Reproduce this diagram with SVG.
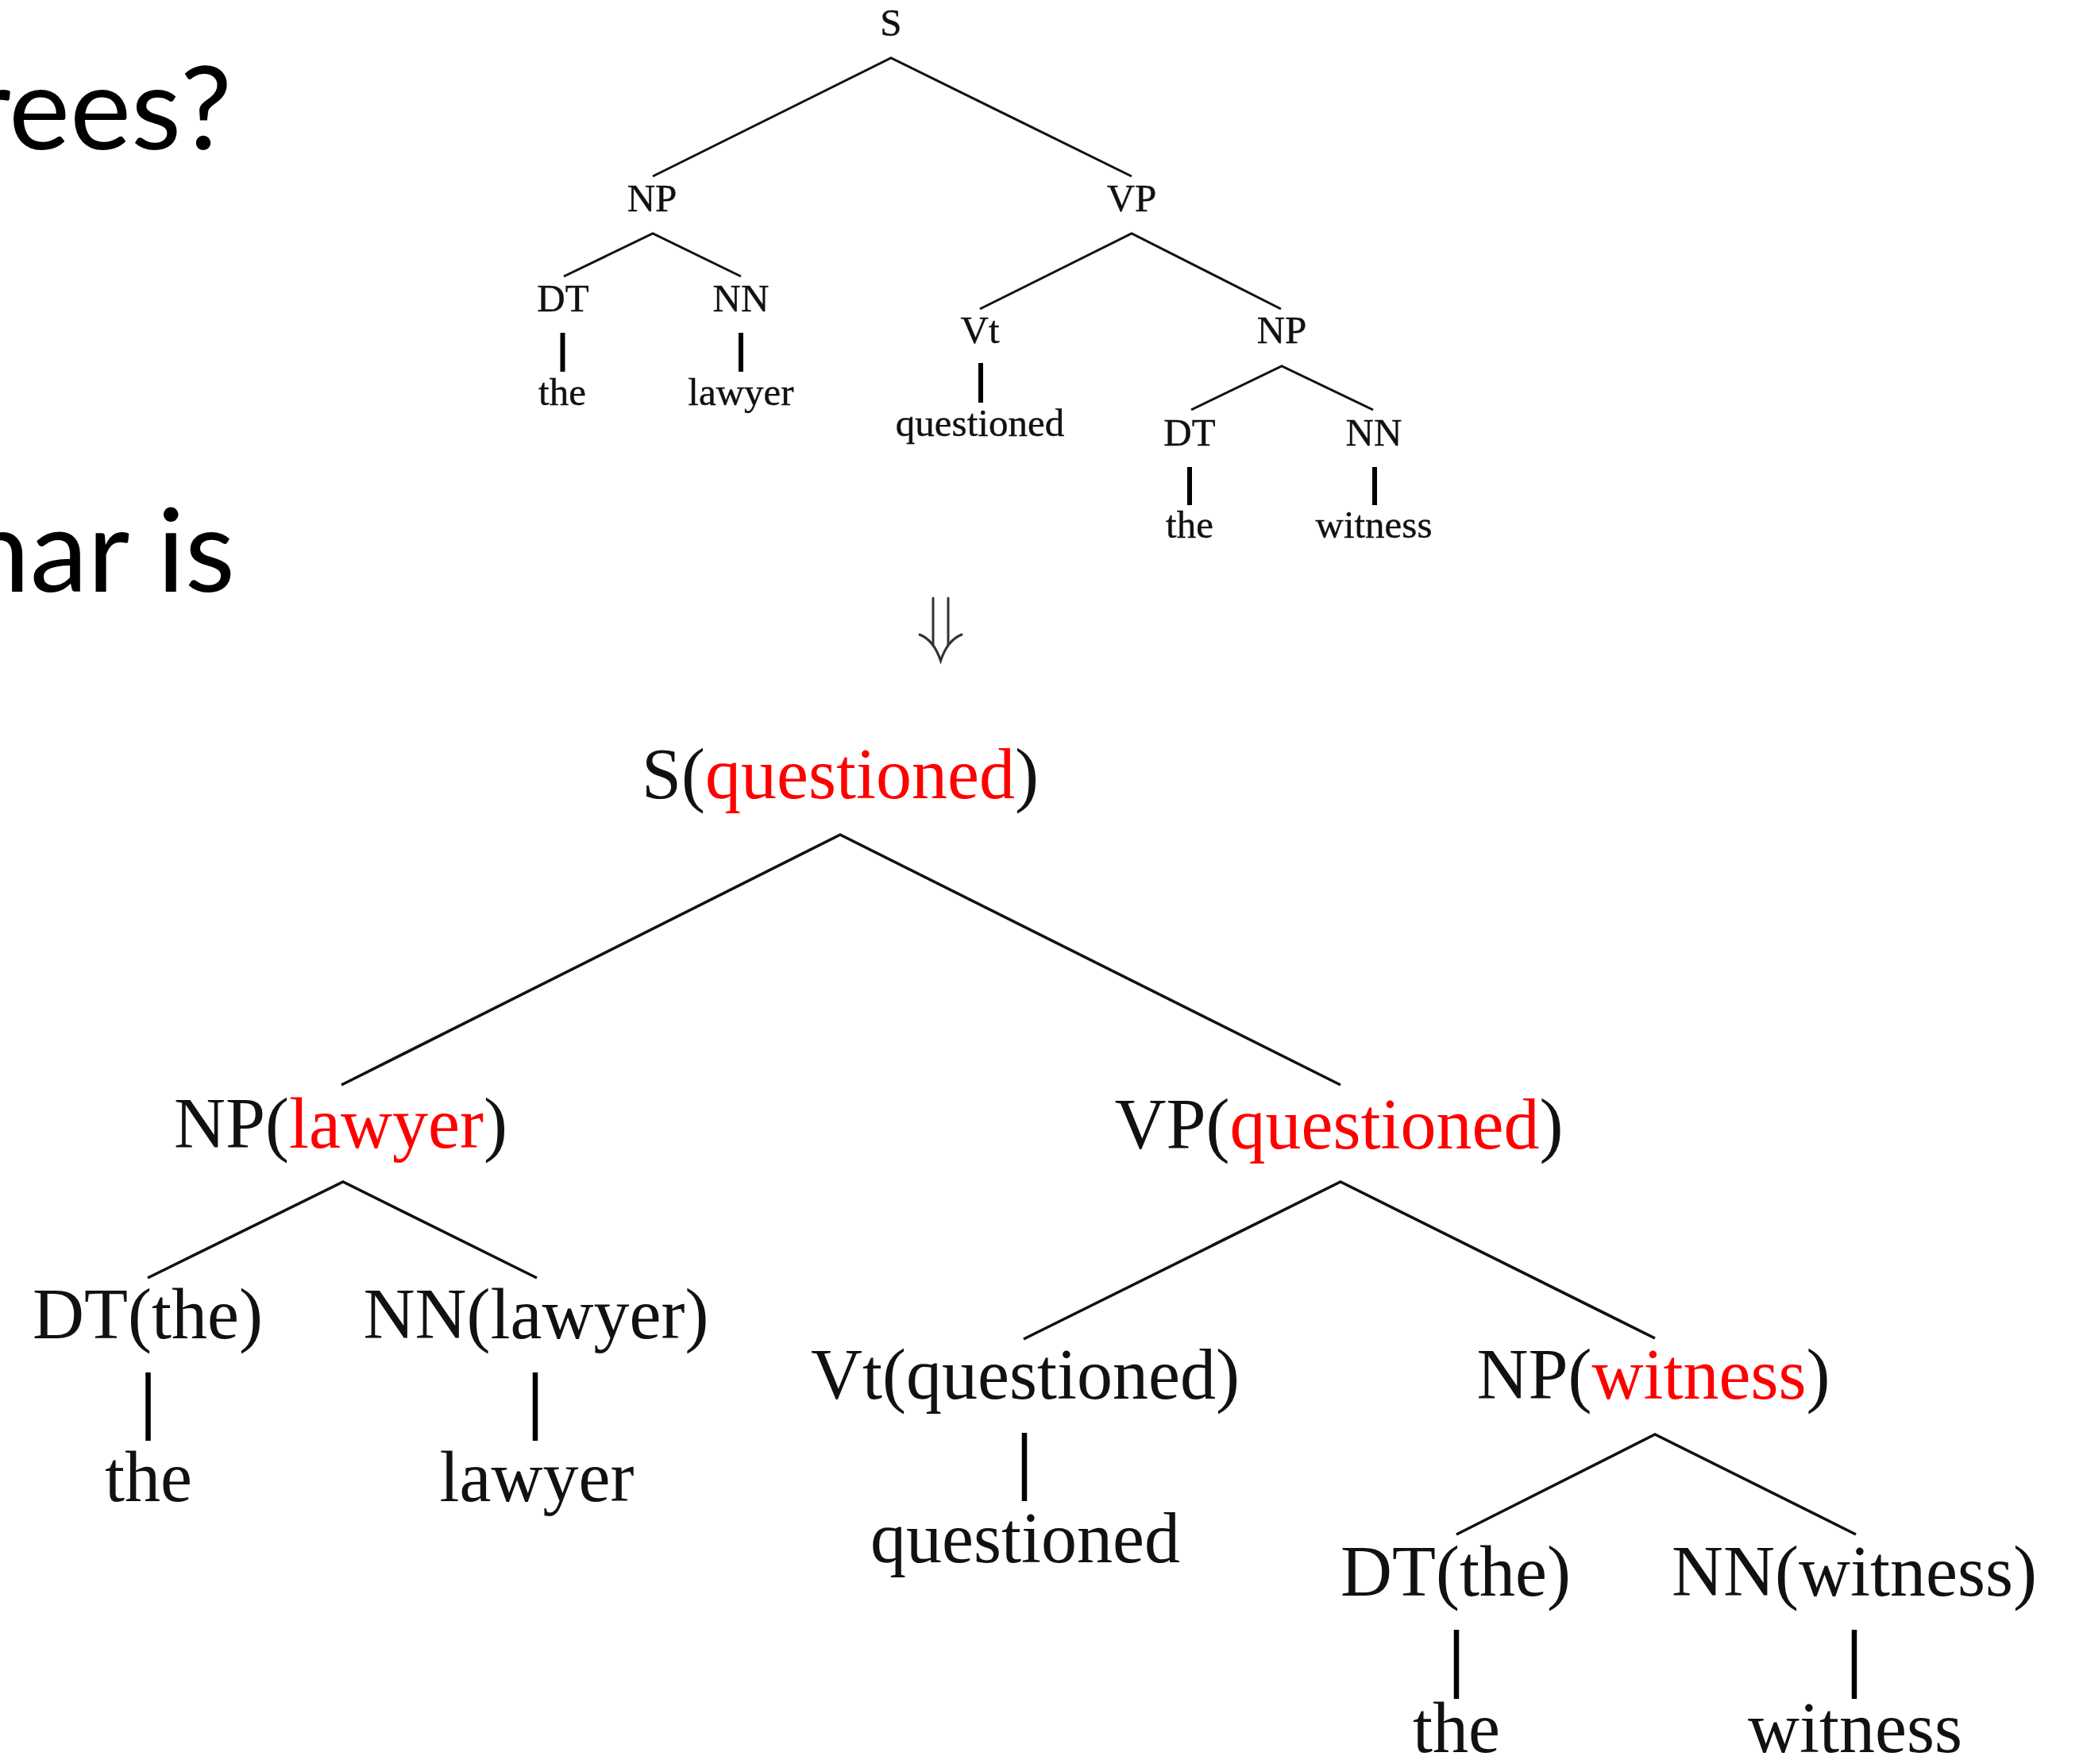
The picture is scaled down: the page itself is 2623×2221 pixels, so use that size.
<svg xmlns="http://www.w3.org/2000/svg" width="2623" height="2221" viewBox="0 0 2623 2221">
<style>
.bg{fill:#fff}
.title{font-family:Lato,"Liberation Sans",sans-serif;font-size:146px;fill:#000}
.s{font-family:"Liberation Serif","Times New Roman",serif;font-size:49px;fill:#111;text-anchor:middle;stroke:#111;stroke-width:0.4}
.b{font-family:"Liberation Serif","Times New Roman",serif;font-size:90px;fill:#111;text-anchor:middle}
.red{fill:#f00}
.e1{stroke:#111;stroke-width:3;fill:none}
.e2{stroke:#111;stroke-width:3.6;fill:none}
.v1{stroke:#000;stroke-width:6;fill:none}
.v2{stroke:#000;stroke-width:6.5;fill:none}
.arr{stroke:#333;stroke-width:3;fill:none;stroke-linecap:round}
</style>
<rect class="bg" x="0" y="0" width="2623" height="2221"/>
<g id="slide-text">
<text class="title" x="292" y="188" text-anchor="end">rees?</text>
<text class="title" x="296" y="745" text-anchor="end">nar is</text>
</g>
<g id="connectors">
<path class="e1" d="M822,222 L1122,73 L1425,222"/>
<path class="e1" d="M710,348 L822,294 L933,348"/>
<path class="e1" d="M1234,389 L1425,294 L1613,389"/>
<path class="e1" d="M1500,516 L1614,461 L1729,516"/>
<line class="v1" x1="708.5" y1="419" x2="708.5" y2="468"/>
<line class="v1" x1="933" y1="419" x2="933" y2="468"/>
<line class="v1" x1="1235" y1="457" x2="1235" y2="507"/>
<line class="v1" x1="1498" y1="588" x2="1498" y2="636"/>
<line class="v1" x1="1731" y1="588" x2="1731" y2="636"/>
<path class="e2" d="M430,1366 L1058,1051 L1688,1366"/>
<path class="e2" d="M186,1609 L432,1488 L676,1609"/>
<path class="e2" d="M1289,1686 L1688,1488 L2084,1685"/>
<path class="e2" d="M1834,1932 L2084,1806 L2337,1932"/>
<line class="v2" x1="186.5" y1="1728" x2="186.5" y2="1814"/>
<line class="v2" x1="674" y1="1728" x2="674" y2="1814"/>
<line class="v2" x1="1290" y1="1804" x2="1290" y2="1890"/>
<line class="v2" x1="1834" y1="2052" x2="1834" y2="2139"/>
<line class="v2" x1="2335" y1="2052" x2="2335" y2="2139"/>
</g>
<g id="transform-arrow">
<line class="arr" x1="1175" y1="753" x2="1175" y2="812"/>
<line class="arr" x1="1194" y1="753" x2="1194" y2="812"/>
<path class="arr" d="M1158,799 Q1176,806 1184.5,832 Q1193,806 1211,799"/>
</g>
<g id="top-S"><text class="s" x="1122" y="45">S</text></g>
<g id="top-NP"><text class="s" x="821" y="266">NP</text></g>
<g id="top-VP"><text class="s" x="1425" y="266">VP</text></g>
<g id="top-DT1"><text class="s" x="709" y="392">DT</text></g>
<g id="top-NN1"><text class="s" x="933" y="392">NN</text></g>
<g id="top-the1"><text class="s" x="708" y="510">the</text></g>
<g id="top-lawyer"><text class="s" x="933" y="510">lawyer</text></g>
<g id="top-Vt"><text class="s" x="1234" y="432">Vt</text></g>
<g id="top-NP2"><text class="s" x="1614" y="432">NP</text></g>
<g id="top-questioned"><text class="s" x="1234" y="549">questioned</text></g>
<g id="top-DT2"><text class="s" x="1498" y="561">DT</text></g>
<g id="top-NN2"><text class="s" x="1730" y="561">NN</text></g>
<g id="top-the2"><text class="s" x="1498" y="677">the</text></g>
<g id="top-witness"><text class="s" x="1730" y="677">witness</text></g>

<g id="bot-S"><text class="b" x="1058" y="1005">S(<tspan class="red">questioned</tspan>)</text></g>
<g id="bot-NP"><text class="b" x="429" y="1445">NP(<tspan class="red">lawyer</tspan>)</text></g>
<g id="bot-VP"><text class="b" x="1686" y="1446">VP(<tspan class="red">questioned</tspan>)</text></g>
<g id="bot-DT1"><text class="b" x="186" y="1685">DT(the)</text></g>
<g id="bot-NN1"><text class="b" x="675" y="1685">NN(lawyer)</text></g>
<g id="bot-the1"><text class="b" x="187" y="1890">the</text></g>
<g id="bot-lawyer"><text class="b" x="676" y="1890">lawyer</text></g>
<g id="bot-Vt"><text class="b" x="1291" y="1761">Vt(questioned)</text></g>
<g id="bot-NP2"><text class="b" x="2082" y="1761">NP(<tspan class="red">witness</tspan>)</text></g>
<g id="bot-questioned"><text class="b" x="1291" y="1967">questioned</text></g>
<g id="bot-DT2"><text class="b" x="1833" y="2009">DT(the)</text></g>
<g id="bot-NN2"><text class="b" x="2335" y="2009">NN(witness)</text></g>
<g id="bot-the2"><text class="b" x="1834" y="2206">the</text></g>
<g id="bot-witness"><text class="b" x="2336" y="2206">witness</text></g>
</svg>
